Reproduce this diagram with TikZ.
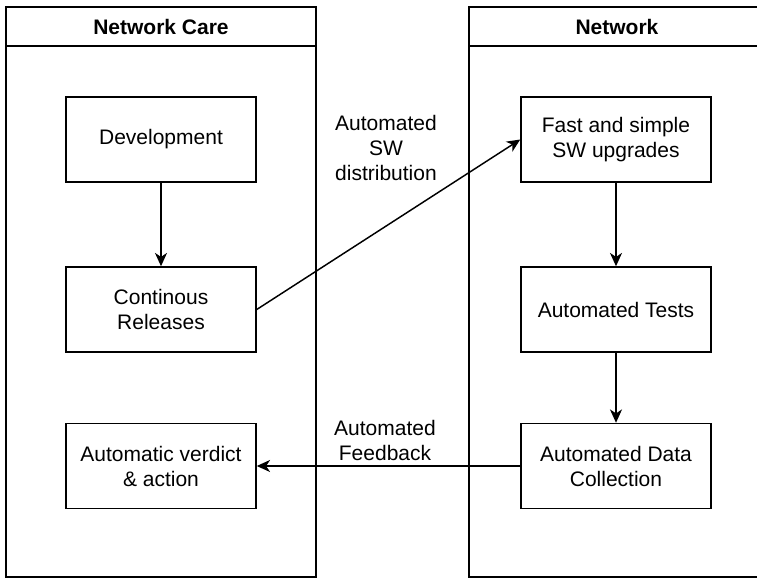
\documentclass[tikz,border=0pt]{standalone}
\usepackage{fontspec}
\setmainfont{Liberation Sans}
\usetikzlibrary{arrows.meta}

\begin{document}
\begin{tikzpicture}[x=0.75pt,y=-0.75pt,line width=1.1pt,
  font=\fontsize{15.75}{18.75}\selectfont,
  box/.style={draw,minimum width=142.5pt,minimum height=63.75pt,align=center,inner sep=0pt},
  head/.style={font=\fontsize{15.75}{18.75}\selectfont\bfseries},
  flow/.style={-{Stealth[length=10pt,width=9pt,inset=3pt]}},
  lbl/.style={align=center}]

\useasboundingbox (0,0) rectangle (757,578);
\clip (0,0) rectangle (757,578);

% lanes
\draw (6,7) rectangle (316,577);
\draw (6,46) -- (316,46);
\node[head] (care) at (161,26.5) {Network Care};

\draw (469,7) rectangle (765,577);
\draw (469,46) -- (765,46);
\node[head] (net) at (617,26.5) {Network};

% left column
\node[box] (dev) at (161,139.5) {Development};
\node[box] (rel) at (161,309.5) {Continous\\Releases};
\node[box] (verd) at (161,466) {Automatic verdict\\\& action};

% right column
\node[box] (fast) at (616,139.5) {Fast and simple\\SW upgrades};
\node[box] (tests) at (616,309.5) {Automated Tests};
\node[box] (data) at (616,466) {Automated Data\\Collection};

\draw[flow] (dev) -- (rel);
\draw[flow] (fast) -- (tests);
\draw[flow] (tests) -- (data);

\draw[flow] (rel.east) -- (fast.west);
\node[lbl] (dist) at (386,148) {Automated\\SW\\distribution};

\draw[flow] (data.west) -- (verd.east);
\node[lbl] (fb) at (385,440) {Automated\\Feedback};

\end{tikzpicture}
\end{document}
